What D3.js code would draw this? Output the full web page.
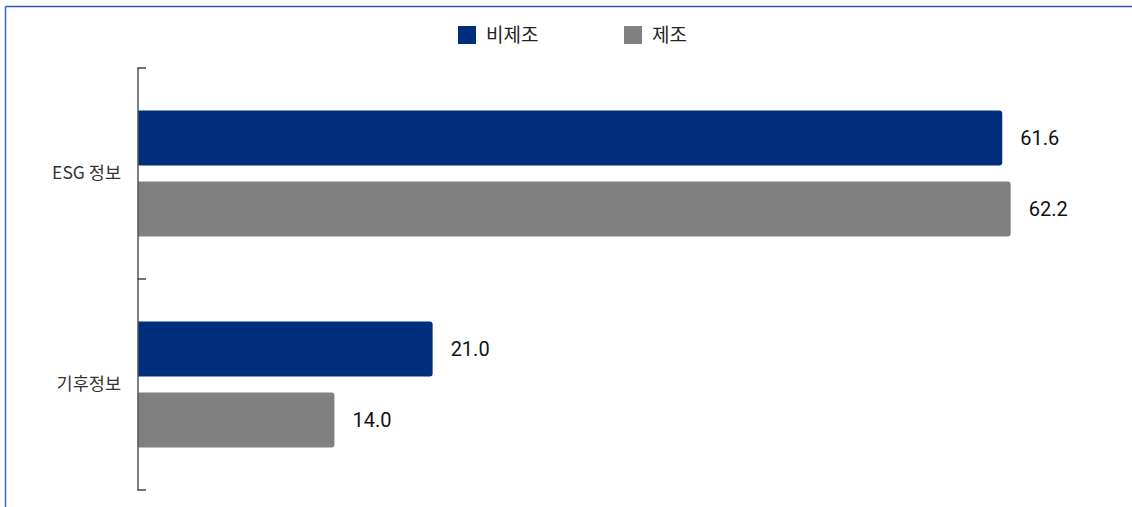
<!DOCTYPE html>
<html>
<head>
<meta charset="utf-8">
<script src="https://cdn.jsdelivr.net/npm/d3@7"></script>
<style>
  html, body { margin: 0; padding: 0; background: #fff; }
  svg { display: block; }
</style>
</head>
<body>
<svg id="chart" width="1132" height="507"></svg>
<script>
// Share of firms disclosing each kind of information (%)
const categories = ["ESG 정보", "기후정보"];
const seriesNames = ["비제조", "제조"];
const nonManufacturing = [61.6, 21.0];
const manufacturing = [62.2, 14.0];
const seriesColors = ["#002e7e", "#808080"];

const svg = d3.select("#chart");
const W = 1132, H = 507;
const korFont = "'Noto Sans CJK KR', 'Noto Sans', sans-serif";
const numFont = "Roboto, 'Noto Sans', sans-serif";

// frame lines (top and left)
svg.append("line").attr("x1", 5.5).attr("x2", W).attr("y1", 6.5).attr("y2", 6.5)
  .attr("stroke", "#2f56b0").attr("stroke-width", 1.5);
svg.append("line").attr("x1", 5.5).attr("x2", 5.5).attr("y1", 6.5).attr("y2", H)
  .attr("stroke", "#3f66c4").attr("stroke-width", 1.5);

const axisX = 138;
const y0 = 68, y1 = 490;

const x = d3.scaleLinear().domain([0, 70]).range([axisX, axisX + 70 * 14.03]);
const y = d3.scaleBand().domain(categories).range([y0, y1]).paddingInner(0).paddingOuter(0);
// two bars per category: 55px tall with a 16px gap between them
const barH = 55, barGap = 16;
const inner = d3.scaleBand().domain(seriesNames)
  .range([(y.bandwidth() - 2 * barH - barGap) / 2, (y.bandwidth() + 2 * barH + barGap) / 2])
  .paddingInner(barGap / (barH + barGap)).paddingOuter(0);

const rows = categories.map((c, i) => ({
  category: c,
  values: [
    { series: seriesNames[0], value: nonManufacturing[i], color: seriesColors[0] },
    { series: seriesNames[1], value: manufacturing[i], color: seriesColors[1] }
  ]
}));

// bars with slightly rounded right ends
function barPath(x0, x1, yt, h, r) {
  return `M${x0},${yt}H${x1 - r}Q${x1},${yt} ${x1},${yt + r}V${yt + h - r}Q${x1},${yt + h} ${x1 - r},${yt + h}H${x0}Z`;
}

const g = svg.append("g");
rows.forEach(row => {
  row.values.forEach(v => {
    const yt = y(row.category) + inner(v.series);
    const h = inner.bandwidth();
    g.append("path")
      .attr("d", barPath(x(0), x(v.value), yt, h, 3))
      .attr("fill", v.color);
    g.append("text")
      .attr("x", x(v.value) + 18)
      .attr("y", yt + h / 2)
      .attr("dy", "0.36em")
      .attr("font-family", numFont)
      .attr("font-size", 20)
      .attr("fill", "#111")
      .text(v.value.toFixed(1));
  });
});

// category axis
const axis = d3.axisLeft(y).tickSize(0).tickPadding(17).tickFormat(d => d);
const ag = svg.append("g").attr("transform", `translate(${axisX},0)`).call(axis);
ag.select(".domain").remove();
ag.selectAll("text").attr("font-family", korFont).attr("font-size", 17.5).attr("fill", "#333");

svg.append("line").attr("x1", axisX).attr("x2", axisX).attr("y1", y0).attr("y2", y1)
  .attr("stroke", "#555").attr("stroke-width", 1.5);
// boundary ticks pointing inward
const tickYs = [y0, y0 + y.bandwidth(), y1];
tickYs.forEach(t => {
  svg.append("line").attr("x1", axisX - 0.75).attr("x2", axisX + 8).attr("y1", t).attr("y2", t)
    .attr("stroke", "#444").attr("stroke-width", 1.5);
});

// legend
const legendItems = [
  { name: seriesNames[0], color: seriesColors[0], x: 458 },
  { name: seriesNames[1], color: seriesColors[1], x: 624 }
];
legendItems.forEach(it => {
  svg.append("rect").attr("x", it.x).attr("y", 26).attr("width", 18).attr("height", 18).attr("fill", it.color);
  svg.append("text").attr("x", it.x + 28).attr("y", 35).attr("dy", "0.36em")
    .attr("font-family", korFont).attr("font-size", 19).attr("fill", "#222").text(it.name);
});
</script>
</body>
</html>
